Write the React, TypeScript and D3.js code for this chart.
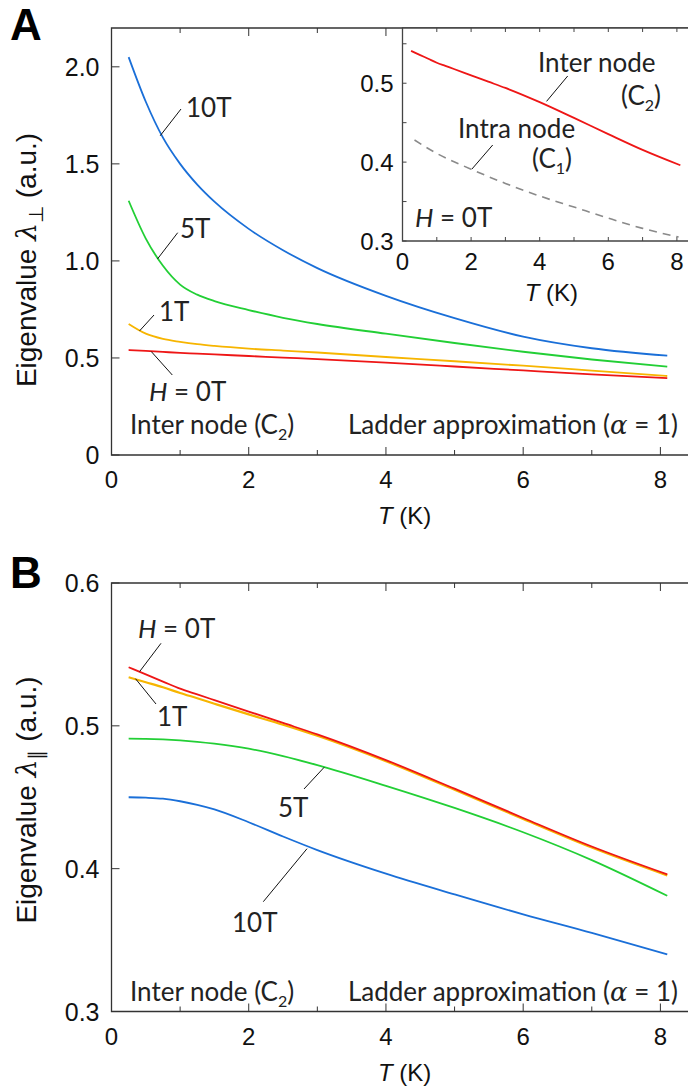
import React from 'react';
import * as d3 from 'd3';

// temperature grid (K) shared by the main curves
const temps = [0.25, 0.5, 0.75, 1, 1.25, 1.5, 2, 2.5, 3, 4, 5, 6, 7, 8.1];

// panel A: lambda perp, inter node (C2)
const perp10T = [2.05, 1.82, 1.635, 1.5, 1.393, 1.305, 1.165, 1.055, 0.963, 0.82, 0.705, 0.61, 0.55, 0.512];
const perp5T = [1.31, 1.115, 0.975, 0.878, 0.826, 0.793, 0.747, 0.707, 0.675, 0.625, 0.577, 0.532, 0.492, 0.455];
const perp1T = [0.675, 0.625, 0.598, 0.583, 0.571, 0.562, 0.548, 0.538, 0.528, 0.505, 0.483, 0.46, 0.435, 0.407];
// H = 0T is the same in both directions
const zeroField = [0.541, 0.536, 0.531, 0.526, 0.522, 0.518, 0.51, 0.502, 0.494, 0.476, 0.456, 0.4355, 0.4155, 0.396];

// panel B: lambda parallel
const para10T = [0.45, 0.4497, 0.449, 0.4472, 0.4447, 0.4415, 0.4325, 0.4225, 0.413, 0.3965, 0.382, 0.368, 0.355, 0.34];
const para5T = [0.491, 0.4909, 0.4905, 0.4898, 0.4888, 0.4875, 0.484, 0.4788, 0.4725, 0.458, 0.4425, 0.4255, 0.406, 0.381];
const para1T = [0.534, 0.5305, 0.527, 0.523, 0.5193, 0.5155, 0.508, 0.5008, 0.493, 0.4752, 0.4552, 0.4348, 0.4148, 0.3953];

// inset: intra node (C1), H = 0T
const intraTemps = [0.35, 1, 2, 3, 4, 5, 6, 7, 8.05];
const intraZero = [0.428, 0.411, 0.391, 0.373, 0.357, 0.343, 0.329, 0.316, 0.305];

const xTicks = [0, 1, 2, 3, 4, 5, 6, 7, 8];
const yTicksA = [0, 0.5, 1.0, 1.5, 2.0];
const yTicksB = [0.3, 0.4, 0.5, 0.6];
const yTicksInset = [0.3, 0.35, 0.4, 0.45, 0.5, 0.55];

const BLUE = '#1a6fd8';
const GREEN = '#22cf35';
const ORANGE = '#f7b500';
const RED = '#ee1616';
const AXIS = '#333';
const TXT = '#222';
const TICK_FONT = "'Liberation Sans', Arial, sans-serif";
const NOTE_FONT = "Lato, 'Open Sans', sans-serif";
const RIGHT = 690; // frame runs off the right edge

const xA = d3.scaleLinear().domain([0, 8]).range([111.5, 660.4]);
const yA = d3.scaleLinear().domain([0, 2.2]).range([455, 28]);
const yB = d3.scaleLinear().domain([0.3, 0.6]).range([1011.5, 583]);
const xI = d3.scaleLinear().domain([0, 8]).range([402.5, 676.9]);
const yI = d3.scaleLinear().domain([0.3, 0.57]).range([241, 28]);

const path = (xs: number[], ys: number[], x: any, y: any) =>
  d3.line<number>()
    .x((_, i) => x(xs[i]))
    .y(d => y(d))
    .curve(d3.curveMonotoneX)(ys) || '';

// "(C_n)" with a lowered subscript
const CSub = ({ n }: any) => (
  <>
    <tspan>(C</tspan>
    <tspan dy={6} fontSize={16}>{n}</tspan>
    <tspan dy={-6}>)</tspan>
  </>
);

const Frame = ({ x, y, top, bottom, yTicks, fmt }: any) => {
  const left = x.range()[0];
  return (
    <g>
      <path d={`M${RIGHT},${top}H${left}V${bottom}H${RIGHT}`} fill="none" stroke={AXIS} strokeWidth={1.3} />
      {xTicks.map(t => {
        const len = t % 2 === 0 ? 8 : 5;
        return (
          <g key={t}>
            <line x1={x(t)} x2={x(t)} y1={bottom} y2={bottom - len} stroke={AXIS} />
            <line x1={x(t)} x2={x(t)} y1={top} y2={top + len} stroke={AXIS} />
          </g>
        );
      })}
      {yTicks.map((v: number) => (
        <g key={v}>
          <line x1={left} x2={left + 8} y1={y(v)} y2={y(v)} stroke={AXIS} />
          <text x={left - 12} y={y(v)} dy="0.36em" textAnchor="end" fontSize={25} fontFamily={TICK_FONT} fill="#111">
            {fmt(v)}
          </text>
        </g>
      ))}
      {xTicks.filter(t => t % 2 === 0).map(t => (
        <text key={t} x={x(t)} y={bottom + 33} textAnchor="middle" fontSize={24} fontFamily={TICK_FONT} fill="#111">
          {t}
        </text>
      ))}
      <text x={x(4) - 8} y={bottom + 69} fontSize={24} fontFamily={TICK_FONT} fill="#111">
        <tspan fontStyle="italic">T</tspan> (K)
      </text>
    </g>
  );
};

const Leader = ({ x1, y1, x2, y2 }: any) => (
  <line x1={x1} y1={y1} x2={x2} y2={y2} stroke="#111" strokeWidth={1} />
);

const YLabel = ({ cx, cy, sub }: any) => (
  <text transform={`translate(${cx},${cy}) rotate(-90)`} textAnchor="middle" fontSize={28} fontFamily={TICK_FONT} fill="#111">
    Eigenvalue <tspan fontStyle="italic" fontFamily="'DejaVu Serif', serif">λ</tspan>
    <tspan dy={7} fontSize={20}>{sub}</tspan>
    <tspan dy={-7}> (a.u.)</tspan>
  </text>
);

const Notes = ({ base }: any) => (
  <g fontFamily={NOTE_FONT} fontSize={26} fill={TXT}>
    <text x={130} y={base}>
      Inter node <CSub n="2" />
    </text>
    <text x={678} y={base} textAnchor="end">
      Ladder approximation (<tspan fontStyle="italic" fontFamily="'DejaVu Serif', serif">α</tspan> = 1)
    </text>
  </g>
);

export default function App() {
  return (
    <svg width={688} height={1091} style={{ display: 'block', position: 'absolute', left: 0, top: 0 }}>
      <rect width={688} height={1091} fill="#fff" />

      {/* ---------- panel A ---------- */}
      <text x={10} y={40} fontSize={44} fontWeight="bold" fontFamily={TICK_FONT} fill="#000">A</text>
      <Frame x={xA} y={yA} top={28} bottom={455} yTicks={yTicksA} fmt={(v: number) => (v === 0 ? '0' : v.toFixed(1))} />
      <YLabel cx={36} cy={260} sub="⊥" />

      <path d={path(temps, perp10T, xA, yA)} fill="none" stroke={BLUE} strokeWidth={1.8} />
      <path d={path(temps, perp5T, xA, yA)} fill="none" stroke={GREEN} strokeWidth={1.8} />
      <path d={path(temps, perp1T, xA, yA)} fill="none" stroke={ORANGE} strokeWidth={1.8} />
      <path d={path(temps, zeroField, xA, yA)} fill="none" stroke={RED} strokeWidth={1.8} />

      <g fontFamily={NOTE_FONT} fontSize={26} fill={TXT}>
        <text x={186} y={117}>10T</text>
        <text x={180} y={238}>5T</text>
        <text x={159} y={321}>1T</text>
        <text x={149} y={401}><tspan fontStyle="italic">H</tspan> = 0T</text>
      </g>
      <Leader x1={181} y1={109} x2={xA(0.71)} y2={yA(1.645)} />
      <Leader x1={177.7} y1={232.7} x2={xA(0.67)} y2={yA(1.01)} />
      <Leader x1={154} y1={315} x2={xA(0.41)} y2={yA(0.64)} />
      <Leader x1={172.3} y1={375} x2={xA(0.58)} y2={yA(0.533)} />
      <Notes base={434} />

      {/* ---------- inset ---------- */}
      <rect x={xI(0)} y={28} width={RIGHT - xI(0)} height={yI(0.3) - 28} fill="#fff" />
      <path d={`M${RIGHT},28H${xI(0)}V${yI(0.3)}H${RIGHT}`} fill="none" stroke="#444" strokeWidth={1.3} />
      {xTicks.map(t => (
        <g key={t}>
          <line x1={xI(t)} x2={xI(t)} y1={yI(0.3)} y2={yI(0.3) - 4} stroke="#444" />
          <line x1={xI(t)} x2={xI(t)} y1={28} y2={32} stroke="#444" />
        </g>
      ))}
      {yTicksInset.map(v => (
        <line key={v} x1={xI(0)} x2={xI(0) + 4} y1={yI(v)} y2={yI(v)} stroke="#444" />
      ))}
      {[0.3, 0.4, 0.5].map(v => (
        <text key={v} x={xI(0) - 9} y={yI(v)} dy="0.36em" textAnchor="end" fontSize={24} fontFamily={TICK_FONT} fill="#111">
          {v.toFixed(1)}
        </text>
      ))}
      {xTicks.filter(t => t % 2 === 0).map(t => (
        <text key={t} x={xI(t)} y={270} textAnchor="middle" fontSize={24} fontFamily={TICK_FONT} fill="#111">{t}</text>
      ))}
      <text x={xI(4) - 15} y={301} fontSize={24} fontFamily={TICK_FONT} fill="#111">
        <tspan fontStyle="italic">T</tspan> (K)
      </text>
      <path d={path(temps, zeroField, xI, yI)} fill="none" stroke={RED} strokeWidth={1.8} />
      <path d={path(intraTemps, intraZero, xI, yI)} fill="none" stroke="#8a8a8a" strokeWidth={1.6} strokeDasharray="8,6" />
      <g fontFamily={NOTE_FONT} fontSize={26} fill={TXT}>
        <text x={538} y={72}>Inter node</text>
        <text x={621} y={105}><CSub n="2" /></text>
        <text x={458} y={138}>Intra node</text>
        <text x={532} y={168}><CSub n="1" /></text>
        <text x={415} y={227}><tspan fontStyle="italic">H</tspan> = 0T</text>
      </g>
      <Leader x1={567.7} y1={76} x2={xI(4.2)} y2={yI(0.477)} />
      <Leader x1={492.7} y1={145} x2={xI(2.02)} y2={yI(0.391)} />

      {/* ---------- panel B ---------- */}
      <text x={10} y={588} fontSize={44} fontWeight="bold" fontFamily={TICK_FONT} fill="#000">B</text>
      <Frame x={xA} y={yB} top={583} bottom={1011.5} yTicks={yTicksB} fmt={(v: number) => v.toFixed(1)} />
      <YLabel cx={36} cy={800} sub="∥" />

      <path d={path(temps, para10T, xA, yB)} fill="none" stroke={BLUE} strokeWidth={1.8} />
      <path d={path(temps, para5T, xA, yB)} fill="none" stroke={GREEN} strokeWidth={1.8} />
      <path d={path(temps, para1T, xA, yB)} fill="none" stroke={ORANGE} strokeWidth={2.2} />
      <path d={path(temps, zeroField, xA, yB)} fill="none" stroke={RED} strokeWidth={1.8} />

      <g fontFamily={NOTE_FONT} fontSize={26} fill={TXT}>
        <text x={138} y={638}><tspan fontStyle="italic">H</tspan> = 0T</text>
        <text x={157} y={726}>1T</text>
        <text x={278} y={817}>5T</text>
        <text x={232} y={932}>10T</text>
      </g>
      <Leader x1={161} y1={643.3} x2={xA(0.41)} y2={yB(0.538)} />
      <Leader x1={156} y1={704} x2={xA(0.35)} y2={yB(0.533)} />
      <Leader x1={304} y1={789} x2={xA(3.1)} y2={yB(0.471)} />
      <Leader x1={263.3} y1={901.7} x2={xA(2.85)} y2={yB(0.414)} />
      <Notes base={1001} />
    </svg>
  );
}
